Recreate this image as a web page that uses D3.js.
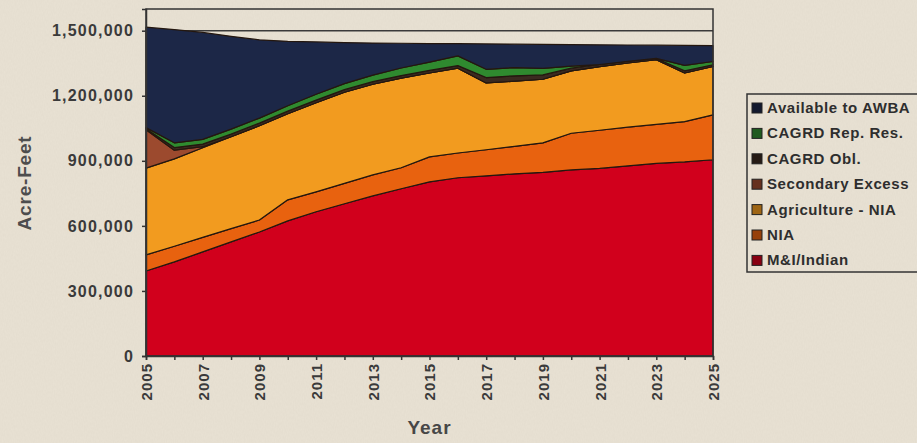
<!DOCTYPE html>
<html>
<head>
<meta charset="utf-8">
<script src="https://cdn.jsdelivr.net/npm/d3@7"></script>
<style>
  body { margin: 0; background: #e8e1d3; overflow: hidden; }
  svg { display: block; font-family: "Liberation Sans", Arial, sans-serif; }
</style>
</head>
<body>
<div id="chart"></div>
<script>
// values in acre-feet
const years = [2005, 2006, 2007, 2008, 2009, 2010, 2011, 2012, 2013, 2014, 2015,
               2016, 2017, 2018, 2019, 2020, 2021, 2022, 2023, 2024, 2025];
const miIndian = [392000, 434000, 480000, 526000, 572000, 623000, 665000, 702000, 738000, 771000, 803000,
                  822000, 831000, 840000, 847000, 858000, 865000, 877000, 888000, 895000, 905000];
const nia = [74000, 72000, 67000, 61000, 55000, 97000, 92000, 94000, 97000, 97000, 115000,
             114000, 120000, 127000, 136000, 169000, 176000, 178000, 180000, 186000, 207000];
const agricultureNia = [400000, 403000, 413000, 424000, 435000, 397000, 411000, 420000, 418000, 413000, 387000,
                        391000, 308000, 300000, 293000, 288000, 293000, 296000, 298000, 224000, 223000];
const secondaryExcess = [177000, 40000, 5000, 0, 0, 0, 0, 0, 0, 0, 0,
                         0, 0, 0, 0, 0, 0, 0, 0, 0, 0];
const cagrdObl = [5000, 12000, 12000, 12000, 12000, 12000, 12000, 12000, 12000, 12000, 12000,
                  12000, 25000, 25000, 20000, 12000, 10000, 8000, 6000, 10000, 8000];
const cagrdRepRes = [5000, 22000, 22000, 23000, 23000, 25000, 27000, 28000, 30000, 35000, 38000,
                     45000, 38000, 38000, 30000, 10000, 0, 0, 0, 25000, 15000];
const availableAwba = [463000, 522000, 493000, 428000, 361000, 297000, 241000, 189000, 148000, 114000, 85000,
                       56000, 117000, 108000, 111000, 99000, 91000, 75000, 61000, 92000, 73000];

const seriesNames = ["M&I/Indian", "NIA", "Agriculture - NIA", "Secondary Excess",
                     "CAGRD Obl.", "CAGRD Rep. Res.", "Available to AWBA"];
const seriesValues = [miIndian, nia, agricultureNia, secondaryExcess, cagrdObl, cagrdRepRes, availableAwba];
const seriesColors = ["#d1001c", "#e8620f", "#f29b1f", "#9c4a2e", "#3b2a20", "#2f8a2f", "#1c2747"];
const yTicks = [0, 300000, 600000, 900000, 1200000, 1500000];
const xLabelYears = [2005, 2007, 2009, 2011, 2013, 2015, 2017, 2019, 2021, 2023, 2025];

const width = 917, height = 443;
const margin = {top: 9, right: 204, bottom: 87, left: 146};

const table = years.map((yr, i) => {
    const row = {year: yr};
    seriesNames.forEach((k, j) => row[k] = seriesValues[j][i]);
    return row;
});

const svg = d3.select("#chart").append("svg")
    .attr("width", width)
    .attr("height", height);

// paper texture
const defs = svg.append("defs");
const f = defs.append("filter").attr("id", "paper").attr("x", 0).attr("y", 0).attr("width", "100%").attr("height", "100%");
f.append("feTurbulence").attr("type", "fractalNoise").attr("baseFrequency", "0.9 0.35").attr("numOctaves", 2).attr("seed", 3);
f.append("feColorMatrix").attr("type", "matrix")
    .attr("values", "0 0 0 0 0.55  0 0 0 0 0.50  0 0 0 0 0.42  0 0 0 0.14 -0.02");
svg.append("rect").attr("width", width).attr("height", height).attr("fill", "#e8e1d3");
svg.append("rect").attr("width", width).attr("height", height).attr("filter", "url(#paper)");

const x = d3.scaleLinear()
    .domain([2005, 2025])
    .range([margin.left, width - margin.right]);

const y = d3.scaleLinear()
    .domain([0, 1600000])
    .range([height - margin.bottom, margin.top]);

// gridlines (only the top one ends up visible)
svg.append("g")
    .selectAll("line")
    .data(yTicks.filter(d => d > 0))
    .enter()
    .append("line")
    .attr("x1", x(2005)).attr("x2", x(2025))
    .attr("y1", d => y(d)).attr("y2", d => y(d))
    .attr("stroke", "#3a3a3a")
    .attr("stroke-width", 1.5);

const stack = d3.stack().keys(seriesNames);
const layers = stack(table);

const area = d3.area()
    .x(d => x(d.data.year))
    .y0(d => y(d[0]))
    .y1(d => y(d[1]));

svg.append("g")
    .selectAll("path")
    .data(layers)
    .enter()
    .append("path")
    .attr("d", area)
    .attr("fill", (d, i) => seriesColors[i])
    .attr("stroke", "#24170f")
    .attr("stroke-width", 1.2)
    .attr("stroke-linejoin", "round");

// plot frame
svg.append("rect")
    .attr("x", x(2005)).attr("y", y(1600000))
    .attr("width", x(2025) - x(2005))
    .attr("height", y(0) - y(1600000))
    .attr("fill", "none")
    .attr("stroke", "#333")
    .attr("stroke-width", 1.5);

// y axis
const yAxis = svg.append("g")
    .attr("transform", `translate(${margin.left},0)`)
    .call(d3.axisLeft(y).tickValues(yTicks).tickFormat(d3.format(",")).tickSize(4).tickPadding(8));
yAxis.select(".domain").attr("stroke", "#333").attr("stroke-width", 1.5);
yAxis.selectAll(".tick line").attr("stroke", "#333").attr("stroke-width", 1.5);
yAxis.selectAll("text")
    .attr("font-size", 16)
    .attr("font-weight", "bold")
    .attr("letter-spacing", 1.2)
    .attr("fill", "#3a3a3a");

// x axis
const xAxis = svg.append("g")
    .attr("transform", `translate(0,${height - margin.bottom})`)
    .call(d3.axisBottom(x).tickValues(years)
        .tickFormat(d => xLabelYears.includes(d) ? String(d) : "")
        .tickSize(4));
xAxis.select(".domain").attr("stroke", "#333").attr("stroke-width", 1.5);
xAxis.selectAll(".tick line").attr("stroke", "#333").attr("stroke-width", 1.5);
xAxis.selectAll("text")
    .attr("transform", "rotate(-90)")
    .attr("text-anchor", "end")
    .attr("x", -7)
    .attr("y", 0)
    .attr("dy", "0.36em")
    .attr("font-size", 15)
    .attr("font-weight", "bold")
    .attr("letter-spacing", 1)
    .attr("fill", "#3a3a3a");

// axis titles
svg.append("text")
    .attr("x", (x(2005) + x(2025)) / 2)
    .attr("y", 434)
    .attr("text-anchor", "middle")
    .attr("font-size", 19)
    .attr("font-weight", "bold")
    .attr("letter-spacing", 1)
    .attr("fill", "#474747")
    .text("Year");

svg.append("text")
    .attr("transform", "translate(31,183) rotate(-90)")
    .attr("text-anchor", "middle")
    .attr("font-size", 19)
    .attr("font-weight", "bold")
    .attr("letter-spacing", 0.8)
    .attr("fill", "#4d4d4d")
    .text("Acre-Feet");

// legend
const legend = svg.append("g").attr("transform", "translate(747,94)");
legend.append("rect")
    .attr("width", 200).attr("height", 178)
    .attr("fill", "none")
    .attr("stroke", "#333")
    .attr("stroke-width", 1.5);

const legendOrder = seriesNames.map((n, i) => i).reverse();
const item = legend.selectAll("g.item")
    .data(legendOrder)
    .enter()
    .append("g")
    .attr("class", "item")
    .attr("transform", (d, i) => `translate(5,${14 + i * 25.4})`);

item.append("rect")
    .attr("x", 0).attr("y", -5)
    .attr("width", 10).attr("height", 10)
    .attr("fill", i => d3.color(seriesColors[i]).darker(1.2))
    .attr("stroke", "#222")
    .attr("stroke-width", 1);

item.append("text")
    .attr("x", 15)
    .attr("y", 5)
    .attr("font-size", 15)
    .attr("font-weight", "bold")
    .attr("letter-spacing", 0.6)
    .attr("fill", "#2e2e2e")
    .text(i => seriesNames[i]);
</script>
</body>
</html>
